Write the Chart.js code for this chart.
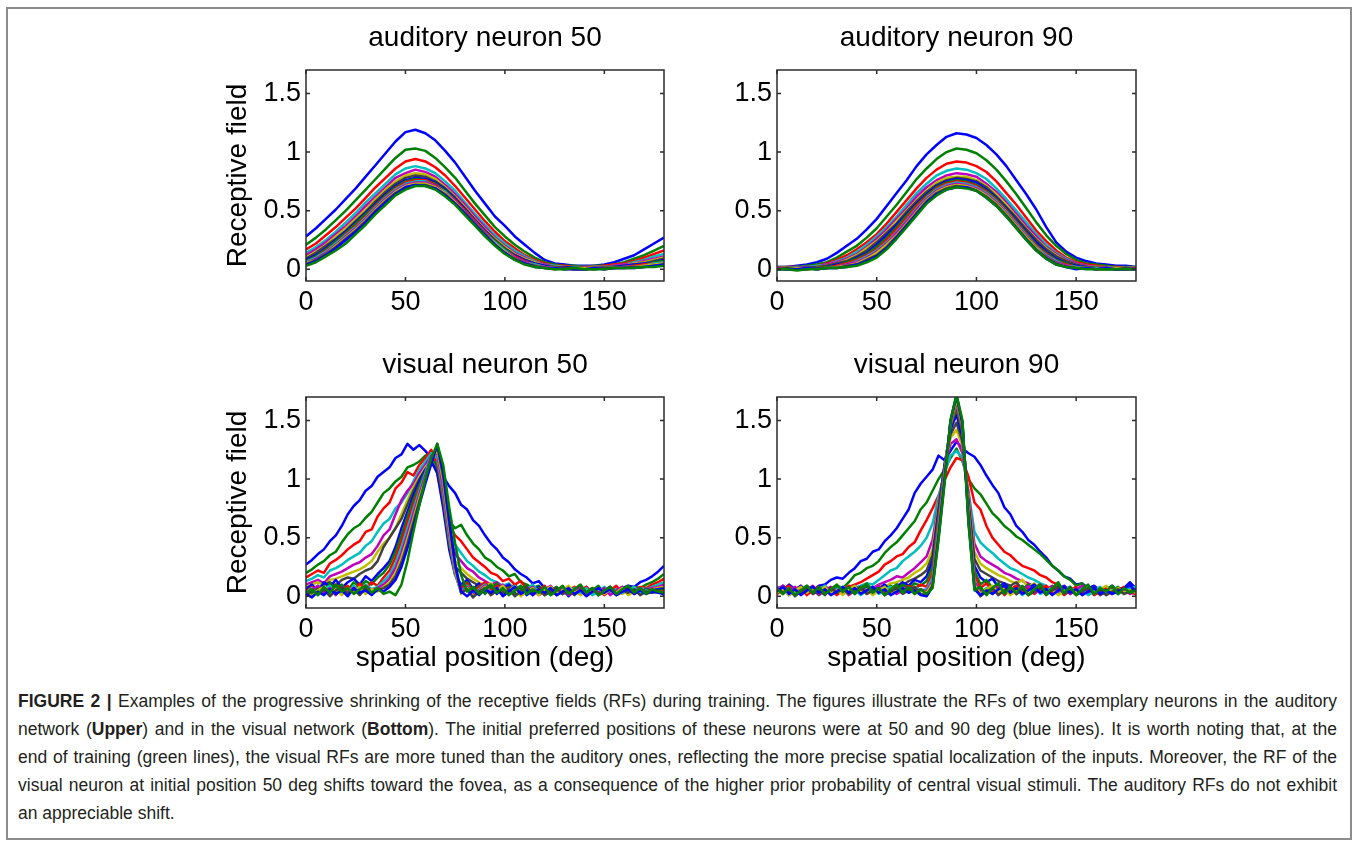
<!DOCTYPE html>
<html>
<head>
<meta charset="utf-8">
<script src="https://cdn.jsdelivr.net/npm/chart.js@4.4.1/dist/chart.umd.min.js"></script>
<style>
  body { margin: 0; background: #fff; width: 1358px; height: 841px; position: relative; overflow: hidden; font-family: "Liberation Sans", Arial, sans-serif; }
  #frame { position: absolute; left: 6px; top: 7px; width: 1342px; height: 829px; border: 2px solid #8c8c8c; }
  canvas { position: absolute; }
  #caption { position: absolute; left: 18px; top: 687px; width: 1319px; font-size: 17.5px; line-height: 28px; color: #231f20; }
  #caption div { white-space: nowrap; }
</style>
</head>
<body>
<div id="frame"></div>
<canvas id="au50" width="470" height="306" style="left:210px;top:15px"></canvas>
<canvas id="au90" width="471" height="306" style="left:681px;top:15px"></canvas>
<canvas id="vi50" width="470" height="341" style="left:210px;top:342px"></canvas>
<canvas id="vi90" width="471" height="341" style="left:681px;top:342px"></canvas>
<div id="caption">
  <div class="ln"><b>FIGURE 2 |</b> Examples of the progressive shrinking of the receptive fields (RFs) during training. The figures illustrate the RFs of two exemplary neurons in the auditory</div>
  <div class="ln">network (<b>Upper</b>) and in the visual network (<b>Bottom</b>). The initial preferred positions of these neurons were at 50 and 90 deg (blue lines). It is worth noting that, at the</div>
  <div class="ln">end of training (green lines), the visual RFs are more tuned than the auditory ones, reflecting the more precise spatial localization of the inputs. Moreover, the RF of the</div>
  <div class="ln">visual neuron at initial position 50 deg shifts toward the fovea, as a consequence of the higher prior probability of central visual stimuli. The auditory RFs do not exhibit</div>
  <div>an appreciable shift.</div>
</div>
<script>
// spatial positions (deg) at which the receptive fields are sampled
const audX = [0,5,10,15,20,25,30,35,40,45,50,55,60,65,70,75,80,85,90,95,100,105,110,115,120,125,130,135,140,145,150,155,160,165,170,175,180];
const visX = [0,3,6,9,12,15,18,21,24,27,30,33,36,39,42,45,48,51,54,57,60,63,66,69,72,75,78,81,84,87,90,93,96,99,102,105,108,111,114,117,120,123,126,129,132,135,138,141,144,147,150,153,156,159,162,165,168,171,174,177,180];

const xTicks = [0, 50, 100, 150];
const yTicks = [0, 0.5, 1, 1.5];

// matlab default line order, cycles through the training snapshots
const lineColors = ['#0000ff', '#008000', '#ff0000', '#00bfbf', '#bf00bf', '#bfbf00', '#404040'];

// auditory neuron 50, one row per training snapshot (first = start, last = end)
const au50 = [
  [0.28,0.35,0.43,0.51,0.60,0.69,0.79,0.89,0.99,1.09,1.17,1.19,1.16,1.10,1.01,0.91,0.79,0.67,0.56,0.45,0.37,0.28,0.21,0.14,0.08,0.05,0.04,0.03,0.03,0.03,0.04,0.06,0.09,0.12,0.17,0.22,0.27],
  [0.21,0.27,0.34,0.42,0.50,0.59,0.68,0.77,0.86,0.95,1.02,1.03,1.01,0.95,0.87,0.78,0.67,0.56,0.46,0.36,0.28,0.21,0.15,0.10,0.06,0.04,0.03,0.03,0.02,0.03,0.03,0.04,0.06,0.09,0.12,0.16,0.20],
  [0.17,0.22,0.29,0.36,0.44,0.52,0.61,0.70,0.78,0.86,0.92,0.94,0.92,0.87,0.80,0.71,0.61,0.51,0.41,0.32,0.24,0.18,0.12,0.08,0.05,0.03,0.03,0.02,0.02,0.02,0.03,0.04,0.05,0.07,0.10,0.13,0.16],
  [0.14,0.19,0.25,0.32,0.40,0.48,0.57,0.65,0.73,0.81,0.86,0.88,0.86,0.82,0.75,0.67,0.57,0.47,0.38,0.29,0.22,0.16,0.11,0.07,0.04,0.03,0.02,0.02,0.02,0.02,0.02,0.03,0.04,0.06,0.08,0.11,0.13],
  [0.12,0.17,0.23,0.30,0.37,0.45,0.54,0.62,0.70,0.78,0.82,0.85,0.83,0.79,0.72,0.64,0.55,0.45,0.36,0.27,0.20,0.14,0.10,0.06,0.04,0.02,0.02,0.01,0.02,0.02,0.02,0.03,0.04,0.05,0.07,0.09,0.11],
  [0.10,0.15,0.21,0.28,0.35,0.43,0.51,0.60,0.68,0.75,0.80,0.82,0.81,0.77,0.70,0.62,0.53,0.43,0.34,0.26,0.19,0.13,0.09,0.06,0.03,0.02,0.02,0.01,0.01,0.02,0.02,0.02,0.03,0.05,0.06,0.08,0.10],
  [0.09,0.14,0.20,0.26,0.33,0.41,0.49,0.58,0.66,0.73,0.78,0.80,0.79,0.75,0.69,0.61,0.52,0.42,0.33,0.25,0.18,0.12,0.08,0.05,0.03,0.02,0.01,0.01,0.01,0.01,0.02,0.02,0.03,0.04,0.05,0.07,0.09],
  [0.08,0.12,0.18,0.25,0.32,0.40,0.48,0.56,0.64,0.71,0.76,0.78,0.77,0.74,0.68,0.60,0.51,0.42,0.33,0.24,0.17,0.12,0.08,0.05,0.03,0.01,0.02,0.01,0.00,0.01,0.01,0.02,0.03,0.04,0.05,0.06,0.08],
  [0.07,0.11,0.17,0.24,0.31,0.39,0.47,0.55,0.63,0.70,0.75,0.77,0.76,0.73,0.67,0.59,0.50,0.41,0.32,0.24,0.17,0.11,0.07,0.04,0.02,0.02,0.01,0.01,0.01,0.00,0.01,0.02,0.02,0.03,0.04,0.06,0.07],
  [0.06,0.10,0.16,0.22,0.30,0.37,0.45,0.54,0.62,0.69,0.74,0.76,0.76,0.72,0.66,0.59,0.50,0.41,0.32,0.23,0.16,0.11,0.07,0.04,0.02,0.01,0.01,0.00,0.01,0.01,0.01,0.01,0.02,0.03,0.04,0.05,0.06],
  [0.06,0.10,0.15,0.22,0.29,0.36,0.44,0.53,0.61,0.68,0.73,0.75,0.75,0.71,0.66,0.58,0.49,0.40,0.31,0.23,0.16,0.10,0.06,0.04,0.02,0.01,0.00,0.01,0.00,0.01,0.01,0.01,0.02,0.02,0.03,0.05,0.06],
  [0.05,0.09,0.14,0.21,0.28,0.35,0.43,0.52,0.60,0.67,0.72,0.74,0.74,0.71,0.65,0.58,0.49,0.40,0.31,0.22,0.15,0.10,0.06,0.03,0.02,0.01,0.01,0.00,0.00,0.01,0.00,0.01,0.02,0.02,0.03,0.04,0.05],
  [0.05,0.08,0.13,0.20,0.27,0.34,0.42,0.51,0.59,0.66,0.71,0.73,0.73,0.70,0.65,0.57,0.48,0.39,0.30,0.22,0.15,0.09,0.05,0.03,0.01,0.01,0.00,0.00,0.01,0.00,0.01,0.01,0.01,0.02,0.03,0.04,0.05],
  [0.04,0.08,0.13,0.19,0.26,0.33,0.41,0.50,0.58,0.65,0.70,0.72,0.72,0.69,0.64,0.56,0.48,0.39,0.30,0.21,0.14,0.09,0.05,0.03,0.01,0.00,0.01,0.00,0.00,0.00,0.01,0.01,0.01,0.02,0.02,0.03,0.04],
  [0.04,0.07,0.12,0.18,0.25,0.32,0.40,0.49,0.57,0.64,0.70,0.72,0.71,0.69,0.63,0.56,0.47,0.38,0.29,0.21,0.14,0.08,0.05,0.02,0.01,0.01,0.00,0.00,0.00,0.01,0.00,0.01,0.01,0.01,0.02,0.03,0.04],
  [0.03,0.06,0.11,0.16,0.22,0.30,0.38,0.47,0.55,0.63,0.68,0.71,0.71,0.68,0.62,0.55,0.46,0.37,0.28,0.20,0.13,0.08,0.04,0.02,0.01,0.00,0.00,0.01,0.00,0.00,0.00,0.01,0.01,0.01,0.02,0.02,0.03]
];

// auditory neuron 90
const au90 = [
  [0.02,0.02,0.03,0.04,0.06,0.09,0.14,0.20,0.26,0.34,0.43,0.54,0.65,0.76,0.88,0.98,1.06,1.13,1.16,1.15,1.12,1.06,0.98,0.88,0.76,0.64,0.51,0.36,0.23,0.15,0.10,0.07,0.05,0.04,0.03,0.03,0.02],
  [0.02,0.02,0.02,0.03,0.04,0.06,0.10,0.15,0.20,0.27,0.35,0.45,0.55,0.66,0.77,0.86,0.94,1.00,1.03,1.02,0.99,0.93,0.85,0.75,0.64,0.52,0.40,0.29,0.20,0.13,0.08,0.05,0.04,0.03,0.02,0.02,0.02],
  [0.01,0.02,0.02,0.02,0.03,0.05,0.08,0.12,0.17,0.23,0.30,0.39,0.49,0.59,0.69,0.78,0.85,0.90,0.92,0.91,0.88,0.83,0.75,0.65,0.55,0.44,0.33,0.24,0.16,0.10,0.06,0.04,0.03,0.02,0.02,0.01,0.01],
  [0.01,0.01,0.02,0.02,0.03,0.04,0.07,0.10,0.15,0.21,0.28,0.36,0.45,0.55,0.65,0.73,0.80,0.84,0.86,0.85,0.82,0.77,0.69,0.60,0.50,0.40,0.30,0.21,0.14,0.09,0.05,0.03,0.02,0.02,0.01,0.01,0.01],
  [0.01,0.01,0.01,0.02,0.02,0.04,0.06,0.09,0.13,0.19,0.26,0.34,0.43,0.52,0.62,0.70,0.76,0.80,0.82,0.81,0.79,0.73,0.66,0.57,0.47,0.37,0.28,0.19,0.13,0.08,0.05,0.03,0.02,0.01,0.01,0.01,0.01],
  [0.01,0.01,0.01,0.01,0.02,0.03,0.05,0.08,0.12,0.18,0.24,0.32,0.41,0.50,0.59,0.67,0.74,0.78,0.79,0.79,0.76,0.71,0.64,0.55,0.45,0.35,0.26,0.18,0.12,0.07,0.04,0.02,0.02,0.01,0.01,0.01,0.01],
  [0.00,0.01,0.01,0.01,0.02,0.03,0.05,0.07,0.11,0.16,0.23,0.31,0.39,0.49,0.58,0.66,0.72,0.76,0.78,0.77,0.75,0.70,0.62,0.53,0.44,0.34,0.25,0.17,0.11,0.07,0.04,0.02,0.01,0.01,0.01,0.00,0.00],
  [0.01,0.00,0.01,0.01,0.01,0.02,0.04,0.06,0.10,0.14,0.21,0.29,0.38,0.47,0.56,0.64,0.71,0.75,0.77,0.76,0.74,0.68,0.61,0.52,0.42,0.32,0.23,0.15,0.09,0.05,0.03,0.02,0.01,0.01,0.00,0.01,0.00],
  [0.00,0.01,0.00,0.01,0.01,0.02,0.03,0.06,0.09,0.13,0.19,0.27,0.36,0.46,0.55,0.63,0.70,0.74,0.76,0.75,0.72,0.67,0.60,0.51,0.41,0.31,0.21,0.14,0.08,0.05,0.02,0.02,0.01,0.00,0.01,0.00,0.01],
  [0.01,0.00,0.01,0.00,0.01,0.01,0.03,0.05,0.08,0.12,0.17,0.25,0.34,0.44,0.54,0.62,0.69,0.73,0.75,0.74,0.71,0.66,0.59,0.50,0.40,0.30,0.20,0.13,0.07,0.04,0.02,0.01,0.01,0.01,0.00,0.00,0.01],
  [0.00,0.01,0.00,0.01,0.00,0.01,0.02,0.04,0.07,0.11,0.16,0.23,0.32,0.42,0.52,0.61,0.68,0.72,0.74,0.73,0.70,0.65,0.58,0.49,0.39,0.29,0.19,0.12,0.07,0.03,0.02,0.01,0.01,0.00,0.00,0.01,0.00],
  [0.01,0.00,0.00,0.01,0.00,0.01,0.02,0.04,0.06,0.10,0.15,0.22,0.31,0.41,0.51,0.60,0.67,0.71,0.73,0.72,0.69,0.64,0.57,0.48,0.38,0.28,0.18,0.11,0.06,0.03,0.01,0.01,0.00,0.01,0.00,0.00,0.01],
  [0.00,0.00,0.01,0.00,0.01,0.01,0.02,0.03,0.05,0.09,0.14,0.21,0.29,0.39,0.49,0.59,0.66,0.70,0.72,0.71,0.68,0.63,0.56,0.47,0.37,0.27,0.18,0.10,0.05,0.02,0.01,0.01,0.00,0.00,0.01,0.00,0.00],
  [0.00,0.01,0.00,0.00,0.01,0.01,0.01,0.03,0.04,0.08,0.12,0.19,0.28,0.38,0.48,0.58,0.65,0.69,0.71,0.70,0.67,0.62,0.55,0.46,0.36,0.26,0.17,0.10,0.05,0.02,0.01,0.01,0.00,0.00,0.00,0.01,0.00],
  [0.00,0.00,0.00,0.01,0.00,0.01,0.01,0.02,0.04,0.07,0.11,0.18,0.27,0.37,0.47,0.57,0.64,0.68,0.70,0.70,0.67,0.61,0.54,0.45,0.35,0.25,0.16,0.09,0.04,0.02,0.00,0.01,0.00,0.01,0.00,0.00,0.00],
  [0.00,0.00,-0.01,0.00,0.00,0.01,0.01,0.02,0.03,0.06,0.10,0.17,0.26,0.36,0.46,0.56,0.63,0.68,0.70,0.69,0.67,0.61,0.54,0.45,0.35,0.25,0.16,0.09,0.04,0.02,0.01,0.00,0.00,0.00,0.00,0.00,0.00]
];

// visual neuron 50
const vi50 = [
  [0.27,0.31,0.36,0.40,0.47,0.52,0.60,0.70,0.77,0.82, 0.90,0.94,1.02,1.06,1.10,1.18,1.21,1.30,1.25,1.29, 1.24,1.18,1.12,1.02,0.94,0.88,0.78,0.74,0.65,0.60, 0.52,0.45,0.40,0.33,0.29,0.23,0.19,0.16,0.11,0.13, 0.07,0.06,0.04,0.07,0.03,0.06,0.04,0.08,0.03,0.06, 0.05,0.08,0.04,0.07,0.09,0.08,0.12,0.14,0.17,0.21, 0.26],
  [0.20,0.23,0.27,0.30,0.35,0.38,0.46,0.53,0.58,0.61, 0.67,0.72,0.80,0.88,0.92,0.98,1.02,1.10,1.12,1.15, 1.20,1.22,1.10,0.85,0.64,0.58,0.61,0.52,0.45,0.40, 0.33,0.30,0.25,0.22,0.17,0.19,0.12,0.10,0.07,0.09, 0.04,0.06,0.02,0.05,0.07,0.03,0.06,0.02,0.05,0.08, 0.03,0.06,0.04,0.07,0.05,0.08,0.07,0.10,0.12,0.15, 0.19],
  [0.16,0.19,0.22,0.20,0.28,0.31,0.35,0.40,0.44,0.47, 0.55,0.57,0.68,0.75,0.80,0.92,0.97,1.06,1.03,1.12, 1.18,1.25,1.05,0.80,0.60,0.52,0.47,0.40,0.33,0.29, 0.25,0.20,0.18,0.13,0.15,0.10,0.13,0.06,0.08,0.04, 0.07,0.03,0.06,0.02,0.05,0.08,0.03,0.06,0.02,0.05, 0.07,0.03,0.06,0.04,0.07,0.05,0.08,0.07,0.10,0.12, 0.15],
  [0.13,0.15,0.18,0.16,0.22,0.24,0.27,0.31,0.34,0.37, 0.43,0.47,0.55,0.62,0.66,0.75,0.80,0.88,0.98,1.08, 1.15,1.22,1.08,0.80,0.55,0.44,0.37,0.30,0.26,0.21, 0.18,0.14,0.12,0.09,0.11,0.06,0.09,0.04,0.07,0.02, 0.05,0.03,0.06,0.02,0.04,0.07,0.02,0.05,0.03,0.06, 0.02,0.05,0.08,0.03,0.06,0.04,0.07,0.06,0.08,0.10, 0.12],
  [0.10,0.12,0.14,0.11,0.17,0.19,0.21,0.24,0.27,0.29, 0.33,0.36,0.43,0.52,0.57,0.70,0.82,0.90,0.96,1.05, 1.12,1.20,1.10,0.82,0.52,0.36,0.30,0.24,0.21,0.16, 0.13,0.10,0.12,0.07,0.09,0.04,0.07,0.03,0.06,0.01, 0.04,0.06,0.02,0.05,0.01,0.04,0.07,0.02,0.05,0.03, 0.06,0.02,0.04,0.07,0.03,0.05,0.04,0.06,0.07,0.08, 0.10],
  [0.08,0.10,0.12,0.09,0.14,0.15,0.17,0.19,0.21,0.23, 0.26,0.30,0.38,0.45,0.50,0.58,0.70,0.82,0.93,1.02, 1.10,1.16,1.06,0.78,0.48,0.30,0.24,0.19,0.15,0.12, 0.09,0.11,0.06,0.09,0.04,0.07,0.02,0.05,0.08,0.03, 0.06,0.01,0.04,0.07,0.02,0.05,0.01,0.04,0.07,0.02, 0.05,0.03,0.06,0.02,0.05,0.03,0.06,0.05,0.06,0.07, 0.08],
  [0.07,0.09,0.06,0.10,0.12,0.09,0.14,0.16,0.15,0.19, 0.22,0.24,0.30,0.42,0.50,0.58,0.66,0.78,0.90,1.00, 1.08,1.14,1.08,0.80,0.45,0.25,0.20,0.15,0.12,0.09, 0.11,0.06,0.09,0.04,0.07,0.02,0.05,0.08,0.03,0.06, 0.02,0.05,0.01,0.04,0.06,0.02,0.05,0.01,0.04,0.06, 0.02,0.05,0.01,0.04,0.06,0.03,0.05,0.04,0.05,0.06, 0.07],
  [0.06,0.10,0.04,0.12,0.08,0.14,0.07,0.12,0.15,0.10, 0.17,0.13,0.19,0.24,0.30,0.42,0.58,0.72,0.86,0.98, 1.08,1.15,1.05,0.75,0.40,0.18,0.10,0.14,0.06,0.11, 0.04,0.09,0.02,0.07,0.10,0.03,0.06,0.01,0.05,0.08, 0.02,0.07,0.03,0.06,0.00,0.05,0.08,0.03,0.06,0.01, 0.05,0.08,0.02,0.06,0.03,0.07,0.04,0.06,0.05,0.06, 0.06],
  [0.05,0.02,0.09,0.04,0.11,0.06,0.10,0.05,0.12,0.08, 0.13,0.10,0.16,0.20,0.27,0.38,0.52,0.68,0.82,0.95, 1.06,1.18,1.12,0.82,0.45,0.20,0.08,0.12,0.05,0.09, 0.02,0.07,0.11,0.04,0.08,0.01,0.06,0.09,0.03,0.07, 0.01,0.05,0.08,0.02,0.06,0.03,0.07,0.01,0.05,0.09, 0.02,0.06,0.04,0.08,0.02,0.05,0.03,0.06,0.04,0.05, 0.05],
  [0.04,0.08,0.02,0.07,0.03,0.10,0.05,0.09,0.03,0.11, 0.06,0.12,0.09,0.16,0.22,0.33,0.47,0.63,0.78,0.92, 1.04,1.20,1.15,0.85,0.48,0.20,0.06,0.11,0.03,0.08, 0.12,0.04,0.09,0.02,0.06,0.10,0.03,0.07,0.01,0.05, 0.09,0.02,0.06,0.04,0.08,0.02,0.05,0.08,0.03,0.06, 0.01,0.05,0.09,0.03,0.07,0.02,0.05,0.03,0.06,0.04, 0.04],
  [0.03,0.07,0.01,0.06,0.09,0.02,0.08,0.03,0.09,0.04, 0.10,0.06,0.08,0.13,0.18,0.28,0.42,0.58,0.74,0.90, 1.05,1.22,1.18,0.88,0.50,0.18,0.04,0.09,0.02,0.06, 0.10,0.03,0.07,0.01,0.05,0.09,0.02,0.06,0.10,0.03, 0.07,0.01,0.05,0.08,0.02,0.06,0.03,0.07,0.01,0.04, 0.08,0.02,0.06,0.03,0.05,0.08,0.02,0.05,0.03,0.04, 0.03],
  [0.02,0.06,0.09,0.03,0.07,0.01,0.08,0.04,0.07,0.02, 0.09,0.05,0.07,0.10,0.15,0.24,0.37,0.53,0.70,0.87, 1.03,1.20,1.22,0.92,0.54,0.20,0.03,0.08,0.01,0.05, 0.09,0.02,0.06,0.10,0.03,0.07,0.01,0.05,0.08,0.02, 0.06,0.09,0.03,0.06,0.01,0.04,0.08,0.02,0.06,0.03, 0.07,0.01,0.05,0.08,0.02,0.04,0.07,0.03,0.05,0.04, 0.02],
  [0.03,0.00,0.05,0.08,0.02,0.06,0.01,0.07,0.03,0.08, 0.02,0.06,0.04,0.08,0.12,0.20,0.33,0.49,0.66,0.84, 1.00,1.17,1.25,0.98,0.58,0.22,0.02,0.07,0.00,0.04, 0.08,0.01,0.05,0.09,0.02,0.06,0.00,0.04,0.07,0.01, 0.05,0.08,0.02,0.05,0.09,0.03,0.06,0.01,0.04,0.07, 0.02,0.06,0.03,0.07,0.01,0.04,0.06,0.02,0.04,0.03, 0.03],
  [0.01,0.05,0.02,0.06,0.00,0.05,0.08,0.02,0.06,0.01, 0.07,0.03,0.05,0.07,0.10,0.17,0.29,0.45,0.63,0.81, 0.98,1.15,1.28,1.02,0.62,0.25,0.03,0.06,-0.01,0.04, 0.07,0.01,0.05,0.02,0.06,0.00,0.04,0.08,0.02,0.05, 0.01,0.04,0.07,0.02,0.05,0.01,0.06,0.03,0.07,0.01, 0.04,0.08,0.02,0.05,0.03,0.06,0.01,0.04,0.03,0.05, 0.01],
  [0.02,-0.01,0.04,0.01,0.06,0.02,0.05,0.00,0.07,0.03, 0.05,0.01,0.06,0.04,0.08,0.14,0.25,0.41,0.59,0.78, 0.96,1.13,1.30,1.06,0.66,0.28,0.04,0.00,0.05,0.01, 0.06,0.03,0.07,0.00,0.04,0.08,0.02,0.05,0.01,0.06, 0.03,0.07,0.01,0.04,0.07,0.02,0.05,0.00,0.04,0.07, 0.03,0.06,0.01,0.04,0.06,0.02,0.05,0.02,0.04,0.03, 0.02],
  [0.03,0.06,0.01,0.08,0.03,0.10,0.04,0.07,0.02,0.06, 0.09,0.03,0.07,0.02,0.04,0.01,0.10,0.30,0.55,0.78, 1.00,1.18,1.30,1.12,0.76,0.45,0.18,0.04,0.08,0.02, 0.06,0.10,0.03,0.07,0.01,0.05,0.09,0.02,0.06,0.03, 0.08,0.01,0.05,0.09,0.02,0.06,0.10,0.03,0.07,0.01, 0.05,0.08,0.02,0.06,0.09,0.03,0.07,0.02,0.06,0.04, 0.03]
];

// visual neuron 90
const vi90 = [
  [0.08,0.05,0.10,0.06,0.04,0.08,0.05,0.09,0.10,0.14, 0.16,0.15,0.20,0.24,0.30,0.32,0.38,0.40,0.47,0.52, 0.58,0.66,0.74,0.88,0.96,1.02,1.08,1.20,1.16,1.24, 1.32,1.26,1.22,1.19,1.12,1.03,0.95,0.88,0.76,0.70, 0.60,0.55,0.48,0.44,0.38,0.33,0.26,0.22,0.17,0.15, 0.10,0.11,0.07,0.09,0.05,0.08,0.05,0.07,0.06,0.11, 0.07],
  [0.05,0.09,0.04,0.07,0.03,0.06,0.08,0.05,0.07,0.04, 0.09,0.07,0.12,0.18,0.20,0.24,0.26,0.30,0.37,0.42, 0.46,0.52,0.58,0.64,0.74,0.80,0.90,1.00,1.08,1.18, 1.26,1.15,1.00,0.92,0.87,0.79,0.71,0.66,0.60,0.56, 0.51,0.48,0.44,0.40,0.36,0.31,0.26,0.22,0.17,0.14, 0.09,0.11,0.05,0.08,0.04,0.07,0.03,0.06,0.04,0.07, 0.05],
  [0.04,0.08,0.02,0.06,0.09,0.03,0.07,0.04,0.08,0.05, 0.07,0.04,0.08,0.10,0.12,0.15,0.18,0.21,0.27,0.30, 0.34,0.36,0.42,0.46,0.56,0.65,0.75,0.86,0.99,1.10, 1.18,1.16,1.02,0.80,0.74,0.60,0.50,0.44,0.38,0.35, 0.30,0.26,0.24,0.22,0.18,0.16,0.12,0.10,0.06,0.08, 0.04,0.07,0.03,0.06,0.02,0.05,0.08,0.03,0.06,0.04, 0.05],
  [0.07,0.03,0.08,0.05,0.02,0.06,0.04,0.07,0.03,0.06, 0.04,0.08,0.05,0.07,0.09,0.11,0.10,0.14,0.18,0.22, 0.24,0.30,0.34,0.38,0.43,0.50,0.62,0.85,1.05,1.20, 1.24,1.18,0.90,0.55,0.46,0.41,0.37,0.32,0.28,0.24, 0.22,0.19,0.16,0.14,0.11,0.09,0.06,0.08,0.04,0.07, 0.03,0.06,0.02,0.05,0.08,0.03,0.06,0.04,0.07,0.03, 0.05],
  [0.06,0.09,0.03,0.07,0.04,0.08,0.02,0.06,0.09,0.04, 0.07,0.03,0.06,0.08,0.05,0.09,0.07,0.10,0.12,0.14, 0.17,0.16,0.20,0.24,0.29,0.34,0.48,0.80,1.08,1.30, 1.34,1.22,0.88,0.45,0.34,0.30,0.27,0.24,0.20,0.18, 0.15,0.13,0.11,0.08,0.10,0.06,0.09,0.04,0.07,0.03, 0.06,0.02,0.05,0.08,0.03,0.06,0.02,0.05,0.03,0.06, 0.04],
  [0.05,0.02,0.07,0.04,0.08,0.03,0.06,0.02,0.05,0.08, 0.03,0.06,0.04,0.07,0.05,0.08,0.06,0.09,0.08,0.11, 0.12,0.14,0.16,0.20,0.23,0.28,0.40,0.78,1.10,1.35, 1.42,1.28,0.85,0.38,0.28,0.24,0.21,0.18,0.16,0.13, 0.11,0.14,0.08,0.11,0.06,0.09,0.04,0.07,0.02,0.05, 0.08,0.03,0.06,0.02,0.05,0.07,0.03,0.06,0.02,0.05, 0.04],
  [0.04,0.07,0.02,0.05,0.08,0.03,0.06,0.01,0.05,0.07, 0.02,0.05,0.08,0.03,0.06,0.04,0.07,0.05,0.08,0.06, 0.10,0.09,0.13,0.15,0.18,0.22,0.35,0.75,1.12,1.38, 1.48,1.32,0.82,0.32,0.22,0.19,0.16,0.13,0.11,0.09, 0.12,0.06,0.09,0.04,0.07,0.02,0.06,0.03,0.07,0.02, 0.05,0.08,0.03,0.06,0.01,0.04,0.07,0.02,0.05,0.03, 0.04],
  [0.03,0.07,0.01,0.05,0.09,0.02,0.06,0.03,0.08,0.04, 0.07,0.02,0.05,0.09,0.04,0.07,0.03,0.06,0.10,0.05, 0.08,0.12,0.09,0.14,0.12,0.17,0.30,0.72,1.12,1.42, 1.55,1.36,0.78,0.26,0.16,0.12,0.15,0.08,0.11,0.05, 0.09,0.03,0.07,0.10,0.04,0.08,0.02,0.06,0.09,0.04, 0.07,0.02,0.05,0.08,0.03,0.06,0.09,0.04,0.07,0.12, 0.06],
  [0.06,0.02,0.08,0.03,0.06,0.09,0.04,0.07,0.02,0.05, 0.08,0.04,0.07,0.02,0.06,0.09,0.04,0.08,0.05,0.09, 0.06,0.10,0.07,0.11,0.09,0.13,0.25,0.68,1.10,1.45, 1.60,1.40,0.76,0.22,0.10,0.14,0.07,0.11,0.04,0.08, 0.02,0.06,0.10,0.03,0.07,0.01,0.05,0.09,0.03,0.07, 0.02,0.06,0.09,0.03,0.06,0.02,0.05,0.08,0.03,0.06, 0.04],
  [0.02,0.06,0.09,0.03,0.07,0.01,0.05,0.08,0.03,0.06, 0.01,0.05,0.09,0.04,0.07,0.02,0.06,0.03,0.07,0.04, 0.08,0.05,0.09,0.06,0.10,0.08,0.20,0.64,1.08,1.46, 1.63,1.42,0.74,0.18,0.07,0.11,0.04,0.08,0.01,0.06, 0.09,0.03,0.07,0.02,0.06,0.09,0.03,0.06,0.01,0.05, 0.08,0.02,0.06,0.01,0.04,0.07,0.02,0.05,0.08,0.03, 0.02],
  [0.08,0.04,0.07,0.02,0.05,0.08,0.03,0.06,0.09,0.02, 0.06,0.08,0.03,0.06,0.01,0.05,0.08,0.02,0.05,0.08, 0.03,0.07,0.04,0.08,0.05,0.06,0.16,0.60,1.06,1.47, 1.65,1.44,0.72,0.14,0.03,0.07,0.02,0.06,0.09,0.03, 0.06,0.01,0.05,0.08,0.02,0.05,0.07,0.02,0.05,0.08, 0.03,0.07,0.01,0.04,0.07,0.03,0.06,0.02,0.05,0.07, 0.08],
  [0.05,0.09,0.03,0.08,0.02,0.06,0.09,0.02,0.05,0.08, 0.04,0.07,0.01,0.05,0.08,0.03,0.06,0.09,0.03,0.06, 0.02,0.05,0.08,0.03,0.06,0.04,0.13,0.57,1.04,1.48, 1.66,1.45,0.70,0.12,0.05,0.02,0.06,0.09,0.03,0.07, 0.02,0.05,0.09,0.03,0.06,0.02,0.07,0.04,0.08,0.02, 0.06,0.09,0.04,0.07,0.02,0.05,0.08,0.04,0.06,0.02, 0.05],
  [0.03,0.06,0.01,0.05,0.08,0.03,0.07,0.04,0.08,0.02, 0.05,0.01,0.06,0.09,0.03,0.06,0.01,0.05,0.08,0.02, 0.06,0.03,0.06,0.02,0.05,0.03,0.11,0.55,1.02,1.49, 1.68,1.46,0.68,0.10,0.02,0.06,0.09,0.03,0.07,0.01, 0.05,0.08,0.02,0.06,0.09,0.03,0.06,0.01,0.04,0.07, 0.03,0.05,0.08,0.02,0.06,0.09,0.04,0.07,0.03,0.05, 0.03],
  [0.07,0.03,0.06,0.00,0.04,0.07,0.02,0.05,0.01,0.07, 0.03,0.06,0.02,0.05,0.08,0.02,0.05,0.07,0.01,0.04, 0.07,0.02,0.05,0.08,0.02,0.01,0.09,0.53,1.00,1.50, 1.70,1.47,0.66,0.08,0.00,0.04,0.07,0.01,0.05,0.08, 0.02,0.06,0.01,0.04,0.07,0.02,0.05,0.08,0.02,0.05, 0.01,0.04,0.07,0.02,0.05,0.01,0.04,0.06,0.02,0.04, 0.06],
  [0.04,0.08,0.02,0.06,0.01,0.05,0.08,0.03,0.06,0.01, 0.04,0.08,0.03,0.07,0.02,0.05,0.08,0.03,0.06,0.01, 0.04,0.07,0.03,0.05,0.01,0.00,0.08,0.50,0.98,1.50, 1.72,1.48,0.64,0.06,0.01,0.05,0.02,0.06,0.09,0.03, 0.07,0.02,0.05,0.08,0.03,0.06,0.01,0.05,0.08,0.03, 0.06,0.01,0.04,0.07,0.02,0.05,0.02,0.04,0.07,0.09, 0.04],
  [0.06,0.02,0.07,0.01,0.05,0.09,0.03,0.08,0.02,0.06, 0.10,0.04,0.08,0.02,0.07,0.11,0.03,0.07,0.01,0.06, 0.10,0.03,0.08,0.02,0.06,0.02,0.07,0.48,0.96,1.50, 1.72,1.50,0.62,0.05,0.08,0.01,0.07,0.11,0.02,0.08, 0.03,0.09,0.01,0.06,0.10,0.02,0.07,0.12,0.03,0.08, 0.01,0.06,0.10,0.02,0.07,0.04,0.09,0.02,0.07,0.03, 0.05]
];

const fam = '"Liberation Sans", Arial, sans-serif';

// matlab style box with inward ticks on all four sides
const boxPlugin = {
  id: 'box',
  afterDraw(chart) {
    const { ctx, chartArea: a, scales: { x, y } } = chart;
    ctx.save();
    ctx.strokeStyle = '#2b2b2b';
    ctx.lineWidth = 1.5;
    ctx.strokeRect(a.left, a.top, a.right - a.left, a.bottom - a.top);
    ctx.beginPath();
    xTicks.forEach(v => {
      const p = x.getPixelForValue(v);
      ctx.moveTo(p, a.bottom); ctx.lineTo(p, a.bottom - 4);
      ctx.moveTo(p, a.top); ctx.lineTo(p, a.top + 4);
    });
    yTicks.forEach(v => {
      const p = y.getPixelForValue(v);
      ctx.moveTo(a.left, p); ctx.lineTo(a.left + 4, p);
      ctx.moveTo(a.right, p); ctx.lineTo(a.right - 4, p);
    });
    ctx.stroke();
    ctx.restore();
  }
};

function makeChart(id, xs, curves, title, yTitle, xTitle) {
  const datasets = curves.map((row, i) => ({
    data: xs.map((x, j) => ({ x: x, y: row[j] })),
    borderColor: lineColors[i % lineColors.length],
    borderWidth: 2.5,
    borderJoinStyle: 'round',
    pointRadius: 0,
    tension: 0,
    order: curves.length - i   // later snapshots drawn on top
  }));

  new Chart(document.getElementById(id), {
    type: 'line',
    data: { datasets: datasets },
    options: {
      responsive: false,
      animation: false,
      devicePixelRatio: 1,
      layout: { padding: { left: 0, right: 16, top: 0, bottom: 0 } },
      plugins: {
        legend: { display: false },
        tooltip: { enabled: false },
        title: {
          display: true, text: title, fullSize: false, color: '#000',
          font: { family: fam, size: 28, weight: 'normal' },
          padding: { top: 6.2, bottom: 15.2 }
        }
      },
      scales: {
        x: {
          type: 'linear', min: 0, max: 180,
          grid: { display: false, drawTicks: false },
          border: { display: false },
          afterBuildTicks: s => { s.ticks = xTicks.map(v => ({ value: v })); },
          afterFit: s => { s.height = xTitle ? 75 : 40; },
          ticks: { padding: 5, color: '#000', autoSkip: false, maxRotation: 0, font: { family: fam, size: 27 }, callback: v => String(v) },
          title: { display: !!xTitle, text: xTitle || '', color: '#000', font: { family: fam, size: 28 }, padding: { top: 0, bottom: 8.4 } }
        },
        y: {
          type: 'linear', min: -0.1, max: 1.7,
          grid: { display: false, drawTicks: false },
          border: { display: false },
          afterBuildTicks: s => { s.ticks = yTicks.map(v => ({ value: v })); },
          afterFit: s => { s.width = 96; },
          ticks: { padding: 5, color: '#000', autoSkip: false, font: { family: fam, size: 27 }, callback: v => String(v) },
          title: { display: !!yTitle, text: yTitle || '', color: '#000', font: { family: fam, size: 28 }, padding: { top: 11.7, bottom: 0 } }
        }
      }
    },
    plugins: [boxPlugin]
  });
}

makeChart('au50', audX, au50, 'auditory neuron 50', 'Receptive field', null);
makeChart('au90', audX, au90, 'auditory neuron 90', null, null);
makeChart('vi50', visX, vi50, 'visual neuron 50', 'Receptive field', 'spatial position (deg)');
makeChart('vi90', visX, vi90, 'visual neuron 90', null, 'spatial position (deg)');

// justify each caption line to the full text width by spreading the word gaps
document.querySelectorAll('#caption .ln').forEach(el => {
  el.style.display = 'inline-block';
  const natural = el.getBoundingClientRect().width;
  el.style.display = 'block';
  const gaps = (el.textContent.trim().match(/ /g) || []).length;
  el.style.wordSpacing = ((1319 - natural) / gaps) + 'px';
});
</script>
</body>
</html>
